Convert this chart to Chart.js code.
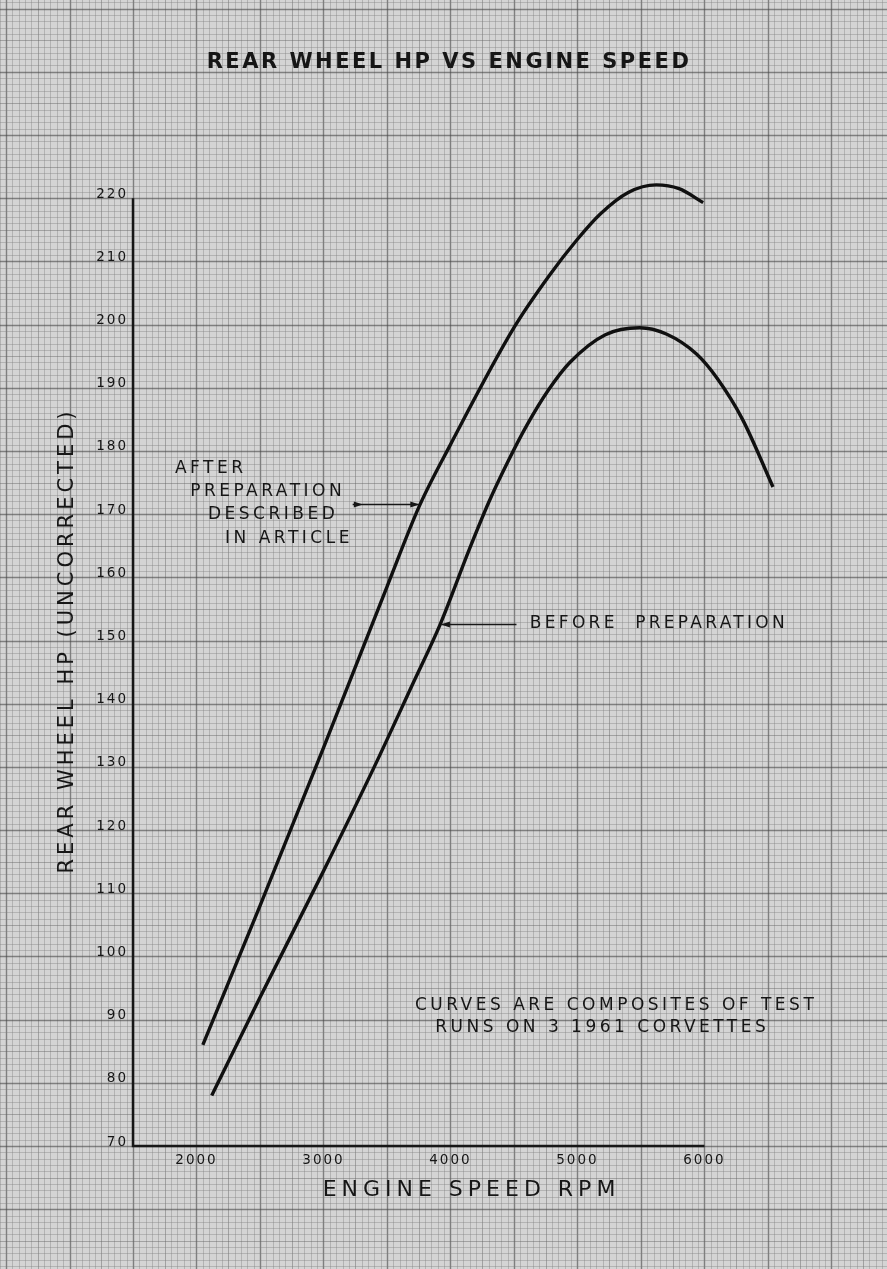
<!DOCTYPE html>
<html>
<head>
<meta charset="utf-8">
<script src="https://cdn.jsdelivr.net/npm/chart.js@4.4.1/dist/chart.umd.min.js"></script>
<style>
  html, body { margin: 0; padding: 0; background: #d3d3d3; }
  #wrap { width: 887px; height: 1269px; }
</style>
</head>
<body>
<div id="wrap"><canvas id="chart"></canvas></div>
<script>
// values
const rpmAfter = [2050, 2500, 3000, 3500, 3760, 4000, 4500, 4780, 5000, 5180, 5400, 5620, 5800, 5990];
const hpAfter = [86, 108, 133, 158.5, 171.5, 181, 199.5, 207.8, 213.5, 217.5, 220.9, 222.1, 221.5, 219.3];
const rpmBefore = [2120, 2500, 3000, 3400, 3700, 3920, 4150, 4300, 4450, 4600, 4770, 4940, 5220, 5490, 5700, 5940, 6100, 6300, 6540];
const hpBefore = [78, 93.5, 113.5, 130, 143, 152.6, 164.5, 171.8, 178.2, 184, 189.6, 194, 198.4, 199.5, 198.5, 195.3, 191.5, 185, 174.3];

const xTicks = [2000, 3000, 4000, 5000, 6000];
const yTicks = [70, 80, 90, 100, 110, 120, 130, 140, 150, 160, 170, 180, 190, 200, 210, 220];

const FONT = "'DejaVu Sans', sans-serif";
const INK = '#161616';

// graph paper behind everything, lined up with the scales
const paper = {
  id: 'paper',
  beforeDraw(chart) {
    const { ctx, width, height, scales: { x, y } } = chart;
    ctx.save();
    ctx.fillStyle = '#d4d4d4';
    ctx.fillRect(0, 0, width, height);
    const style = (major, mid) => {
      ctx.strokeStyle = major ? 'rgba(70,70,70,0.6)' : (mid ? 'rgba(100,100,100,0.45)' : 'rgba(125,125,125,0.38)');
      ctx.lineWidth = major ? 1.4 : 1;
    };
    const x0 = Math.floor(x.getValueForPixel(0) / 50) * 50;
    const x1 = Math.ceil(x.getValueForPixel(width) / 50) * 50;
    for (let v = x0; v <= x1; v += 50) {
      const p = Math.round(x.getPixelForValue(v)) + 0.5;
      style(v % 500 === 0, v % 250 === 0);
      ctx.beginPath(); ctx.moveTo(p, 0); ctx.lineTo(p, height); ctx.stroke();
    }
    const y0 = Math.floor(y.getValueForPixel(height));
    const y1 = Math.ceil(y.getValueForPixel(0));
    for (let v = y0; v <= y1; v += 1) {
      const p = Math.round(y.getPixelForValue(v)) + 0.5;
      style(v % 10 === 0, v % 5 === 0);
      ctx.beginPath(); ctx.moveTo(0, p); ctx.lineTo(width, p); ctx.stroke();
    }
    ctx.restore();
    ctx.letterSpacing = '2px';
  }
};

// axis lines: y from 70 to 220, x from 1500 to 6000
const axes = {
  id: 'axes',
  beforeDatasetsDraw(chart) {
    const { ctx, scales: { x, y } } = chart;
    ctx.save();
    ctx.strokeStyle = INK;
    ctx.lineWidth = 2.5;
    ctx.beginPath();
    ctx.moveTo(x.getPixelForValue(1500), y.getPixelForValue(220));
    ctx.lineTo(x.getPixelForValue(1500), y.getPixelForValue(70));
    ctx.lineTo(x.getPixelForValue(6000), y.getPixelForValue(70));
    ctx.stroke();
    ctx.restore();
  }
};

function arrowHead(ctx, px, py, dir) {
  ctx.beginPath();
  ctx.moveTo(px, py);
  ctx.lineTo(px - dir * 9, py - 3);
  ctx.lineTo(px - dir * 9, py + 3);
  ctx.closePath();
  ctx.fill();
}

// titles, hand-lettered notes and leader arrows
const notes = {
  id: 'notes',
  afterDatasetsDraw(chart) {
    const { ctx, chartArea, scales: { x, y } } = chart;
    ctx.save();
    ctx.fillStyle = INK;
    ctx.strokeStyle = INK;
    ctx.textBaseline = 'middle';

    // chart title
    ctx.textAlign = 'center';
    ctx.font = 'bold 21px ' + FONT;
    ctx.letterSpacing = '2.5px';
    ctx.fillText('REAR WHEEL HP VS ENGINE SPEED', 449, 63);

    // axis titles
    ctx.font = '22px ' + FONT;
    ctx.letterSpacing = '5px';
    ctx.fillText('ENGINE SPEED RPM', (chartArea.left + chartArea.right) / 2 + 2, 1190);
    ctx.save();
    ctx.translate(68, (chartArea.top + chartArea.bottom) / 2);
    ctx.rotate(-Math.PI / 2);
    ctx.font = '21px ' + FONT;
    ctx.letterSpacing = '4px';
    ctx.fillText('REAR WHEEL HP (UNCORRECTED)', 0, 0);
    ctx.restore();

    ctx.textAlign = 'left';
    ctx.font = '17px ' + FONT;
    ctx.letterSpacing = '3.5px';
    const txt = (s, r, h) => ctx.fillText(s, x.getPixelForValue(r), y.getPixelForValue(h));
    txt('AFTER', 1830, 177.2);
    txt('PREPARATION', 1950, 173.6);
    txt('DESCRIBED', 2090, 169.9);
    txt('IN ARTICLE', 2225, 166.1);
    ctx.letterSpacing = '3.3px';
    txt('BEFORE  PREPARATION', 4625, 152.6);
    ctx.letterSpacing = '3.5px';
    txt('CURVES ARE COMPOSITES OF TEST', 3720, 92.3);
    txt('RUNS ON 3 1961 CORVETTES', 3880, 88.7);

    ctx.lineWidth = 1.4;
    let py = Math.round(y.getPixelForValue(171.6)) + 0.5;
    ctx.beginPath();
    ctx.moveTo(x.getPixelForValue(3230), py);
    ctx.lineTo(x.getPixelForValue(3750), py);
    ctx.stroke();
    arrowHead(ctx, x.getPixelForValue(3755), py, 1);
    arrowHead(ctx, x.getPixelForValue(3310), py, 1);

    py = Math.round(y.getPixelForValue(152.6)) + 0.5;
    ctx.beginPath();
    ctx.moveTo(x.getPixelForValue(4520), py);
    ctx.lineTo(x.getPixelForValue(3930), py);
    ctx.stroke();
    arrowHead(ctx, x.getPixelForValue(3925), py, -1);
    ctx.restore();
  }
};

const toPoints = (xs, ys) => xs.map((v, i) => ({ x: v, y: ys[i] }));

new Chart(document.getElementById('chart'), {
  type: 'line',
  data: {
    datasets: [
      {
        label: 'After preparation',
        data: toPoints(rpmAfter, hpAfter),
        borderColor: '#101010',
        borderWidth: 3.4,
        pointRadius: 0,
        cubicInterpolationMode: 'monotone',
        fill: false
      },
      {
        label: 'Before preparation',
        data: toPoints(rpmBefore, hpBefore),
        borderColor: '#101010',
        borderWidth: 3.4,
        pointRadius: 0,
        cubicInterpolationMode: 'monotone',
        fill: false
      }
    ]
  },
  options: {
    responsive: true,
    maintainAspectRatio: false,
    animation: false,
    layout: { padding: { top: 135, right: 81, bottom: 0, left: 0 } },
    plugins: {
      legend: { display: false },
      tooltip: { enabled: false },
      title: { display: false }
    },
    scales: {
      x: {
        type: 'linear',
        min: 1500,
        max: 6800,
        grid: { display: false, drawTicks: false },
        border: { display: false },
        afterBuildTicks: s => { s.ticks = xTicks.map(v => ({ value: v })); },
        afterFit: s => { s.height = 123; },
        ticks: { color: INK, font: { family: FONT, size: 13.5 }, padding: 6, maxRotation: 0, callback: v => String(v) }
      },
      y: {
        type: 'linear',
        min: 70,
        max: 230,
        grid: { display: false, drawTicks: false },
        border: { display: false },
        afterBuildTicks: s => { s.ticks = yTicks.map(v => ({ value: v })); },
        afterFit: s => { s.width = 133; },
        ticks: { color: INK, font: { family: FONT, size: 13.5 }, padding: 5, labelOffset: -4, callback: v => String(v) }
      }
    }
  },
  plugins: [paper, axes, notes]
});
</script>
</body>
</html>
